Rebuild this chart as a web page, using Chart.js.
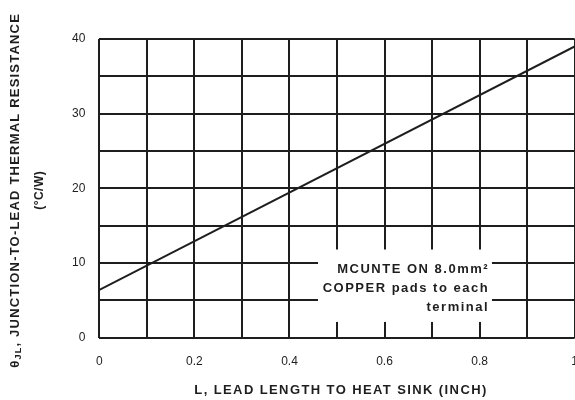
<!DOCTYPE html>
<html>
<head>
<meta charset="utf-8">
<script src="https://cdn.jsdelivr.net/npm/chart.js@4"></script>
<style>
  html, body { margin: 0; padding: 0; background: #fff; overflow: hidden; }
  #wrap { width: 595px; height: 400px; }
</style>
</head>
<body>
<div id="wrap"><canvas id="chart" width="595" height="400"></canvas></div>
<script>
// lead length (inch) vs junction-to-lead thermal resistance (°C/W)
const leadLength = [0, 1];
const thermalRes = [6.4, 39];
const xTickLabels = ['0', '0.2', '0.4', '0.6', '0.8', '1'];
const yTickLabels = ['0', '10', '20', '30', '40'];
const noteLines = ['MCUNTE ON 8.0mm\u00B2', 'COPPER pads to each', 'terminal'];
const xTitle = 'L, LEAD LENGTH TO HEAT SINK (INCH)';
const yTitle = ', JUNCTION-TO-LEAD THERMAL RESISTANCE';
const yUnit = '(\u00B0C/W)';

const ink = '#1e1e1e';
const fontFamily = '"Liberation Sans", Arial, sans-serif';

// white label box with right aligned note, placed on the value scales
const notePlugin = {
    id: 'note',
    afterDatasetsDraw(chart) {
        const { ctx, scales: { x, y } } = chart;
        const left = x.getPixelForValue(0.46);
        const right = x.getPixelForValue(0.826);
        const top = y.getPixelForValue(11.8);
        const bottom = y.getPixelForValue(2.1);
        ctx.save();
        ctx.fillStyle = '#fff';
        ctx.fillRect(left, top, right - left, bottom - top);
        ctx.fillStyle = ink;
        ctx.font = 'bold 13px ' + fontFamily;
        ctx.letterSpacing = '1.5px';
        ctx.textAlign = 'right';
        ctx.textBaseline = 'middle';
        const textRight = x.getPixelForValue(0.82);
        noteLines.forEach((line, i) => {
            ctx.fillText(line, textRight, top + 20 + i * 19);
        });
        ctx.restore();
    }
};

// axis titles drawn by hand so the wide lettering of the scan can be matched
const titlePlugin = {
    id: 'titles',
    afterDraw(chart) {
        const { ctx, chartArea } = chart;
        const midX = (chartArea.left + chartArea.right) / 2 + 4;
        const midY = (chartArea.top + chartArea.bottom) / 2 + 2;
        ctx.save();
        ctx.fillStyle = ink;
        ctx.textBaseline = 'middle';
        ctx.font = 'bold 13px ' + fontFamily;
        ctx.letterSpacing = '1.4px';
        ctx.textAlign = 'center';
        ctx.fillText(xTitle, midX, 390);

        // y title, rotated, with theta and subscript JL
        ctx.translate(15, midY);
        ctx.rotate(-Math.PI / 2);
        ctx.letterSpacing = '1.2px';
        const theta = '\u03B8';
        const sub = 'JL';
        const wTheta = ctx.measureText(theta).width;
        const wMain = ctx.measureText(yTitle).width;
        ctx.font = 'bold 9px ' + fontFamily;
        const wSub = ctx.measureText(sub).width;
        let start = -(wTheta + wSub + wMain) / 2;
        ctx.textAlign = 'left';
        ctx.font = 'bold 13px ' + fontFamily;
        ctx.fillText(theta, start, 0);
        ctx.font = 'bold 9px ' + fontFamily;
        ctx.fillText(sub, start + wTheta, 4);
        ctx.font = 'bold 13px ' + fontFamily;
        ctx.fillText(yTitle, start + wTheta + wSub, 0);
        ctx.textAlign = 'center';
        ctx.letterSpacing = '0.5px';
        ctx.font = 'bold 12px ' + fontFamily;
        ctx.fillText(yUnit, 0, 25);
        ctx.restore();
    }
};

new Chart(document.getElementById('chart').getContext('2d'), {
    type: 'scatter',
    data: {
        datasets: [{
            data: leadLength.map((v, i) => ({ x: v, y: thermalRes[i] })),
            showLine: true,
            borderColor: ink,
            borderWidth: 2,
            pointRadius: 0
        }]
    },
    options: {
        responsive: false,
        animation: false,
        layout: { padding: { top: 39, left: 58, right: 0, bottom: 14 } },
        plugins: {
            legend: { display: false },
            tooltip: { enabled: false }
        },
        scales: {
            x: {
                type: 'linear',
                min: 0,
                max: 1,
                border: { display: false },
                grid: { color: ink, lineWidth: 2, drawTicks: false },
                ticks: {
                    stepSize: 0.1,
                    padding: 17,
                    color: ink,
                    font: { family: fontFamily, size: 12 },
                    maxRotation: 0,
                    autoSkip: false,
                    callback: (v) => {
                        const idx = Math.round(v * 10);
                        return idx % 2 === 0 ? xTickLabels[idx / 2] : '';
                    }
                }
            },
            y: {
                type: 'linear',
                min: 0,
                max: 40,
                border: { display: false },
                grid: { color: ink, lineWidth: 2, drawTicks: false },
                ticks: {
                    stepSize: 5,
                    padding: 14,
                    color: ink,
                    font: { family: fontFamily, size: 12 },
                    autoSkip: false,
                    callback: (v) => (v % 10 === 0 ? yTickLabels[v / 10] : '')
                }
            }
        }
    },
    plugins: [notePlugin, titlePlugin]
});
</script>
</body>
</html>
